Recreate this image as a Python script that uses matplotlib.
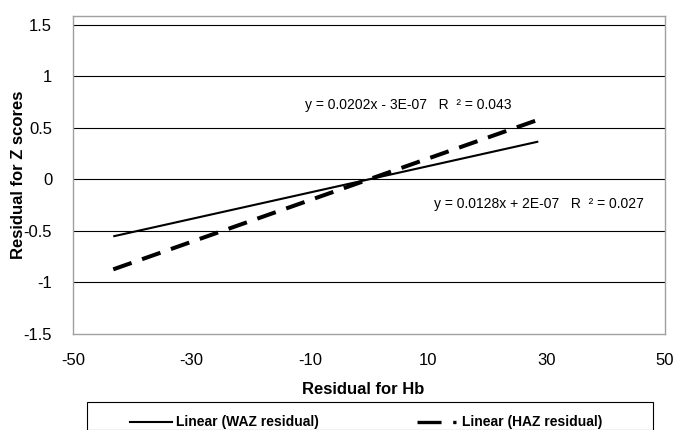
import matplotlib
matplotlib.use("Agg")
import matplotlib.pyplot as plt
from matplotlib.lines import Line2D
from matplotlib.patches import Rectangle

plt.rcParams['font.family'] = ['Liberation Sans', 'DejaVu Sans']
plt.rcParams['lines.scale_dashes'] = False
plt.rcParams['axes.unicode_minus'] = False

# trend line endpoints
x_ends = [-43.2, 28.6]
waz_y = [-0.553, 0.366]
haz_y = [-0.873, 0.578]
waz_eq = "y = 0.0128x + 2E-07   R  \u00b2 = 0.027"
haz_eq = "y = 0.0202x - 3E-07   R  \u00b2 = 0.043"
xticks = [-50, -30, -10, 10, 30, 50]
yticks = [-1.5, -1, -0.5, 0, 0.5, 1, 1.5]
ytick_labels = ["-1.5", "-1", "-0.5", "0", "0.5", "1", "1.5"]

fig = plt.figure(figsize=(6.76, 4.30), dpi=100)
ax = fig.add_axes([73/676, 1-334/430, 592/676, 318/430])

for yv in [-1, -0.5, 0, 0.5, 1, 1.5]:
    ax.axhline(yv, color='black', lw=0.8, zorder=1)

ax.plot(x_ends, waz_y, color='black', lw=1.5, solid_capstyle='butt', zorder=3)
ax.plot(x_ends, haz_y, color='black', lw=2.9, dashes=(14, 8),
        dash_capstyle='butt', zorder=3)

ax.text(-10.8, 0.72, haz_eq, fontsize=10, va='center', ha='left')
ax.text(11.0, -0.24, waz_eq, fontsize=10, va='center', ha='left')

ax.set_xlim(-50, 50)
ax.set_ylim(-1.5, 1.584)
ax.set_xticks(xticks)
ax.set_yticks(yticks)
ax.set_yticklabels(ytick_labels)
ax.tick_params(length=0, labelsize=12)
ax.tick_params(axis='y', pad=15)
ax.tick_params(axis='x', pad=14)
for s in ax.spines.values():
    s.set_color('#a0a0a0')
    s.set_linewidth(1.0)

ax.set_xlabel("Residual for Hb", fontsize=12, fontweight='bold')
ax.set_ylabel("Residual for Z scores", fontsize=12, fontweight='bold')
ax.xaxis.set_label_coords((363-73)/592, -(382-334)/318)
ax.yaxis.set_label_coords((26-73)/592, 0.5)

# legend box at the bottom (cut off by the figure edge)
W, H = 676, 430
fig.add_artist(Rectangle((86.7/W, 0), (652.7-86.7)/W, (H-410.7)/H + 0.02,
                         transform=fig.transFigure, fill=False,
                         edgecolor='black', lw=0.8, clip_on=False))
ly = 1 - 422/H
fig.add_artist(Line2D([130/W, 172/W], [ly, ly], transform=fig.transFigure,
                      color='black', lw=1.5))
fig.text(176/W, ly, "Linear (WAZ residual)", fontsize=10, fontweight='bold',
         va='center', ha='left')
fig.add_artist(Line2D([417/W, 456/W], [ly, ly], transform=fig.transFigure,
                      color='black', lw=2.4, dashes=(17.3, 8.4, 2.4, 20),
                      dash_capstyle='butt'))
fig.text(462/W, ly, "Linear (HAZ residual)", fontsize=10, fontweight='bold',
         va='center', ha='left')

fig.savefig("out.png", dpi=100)
